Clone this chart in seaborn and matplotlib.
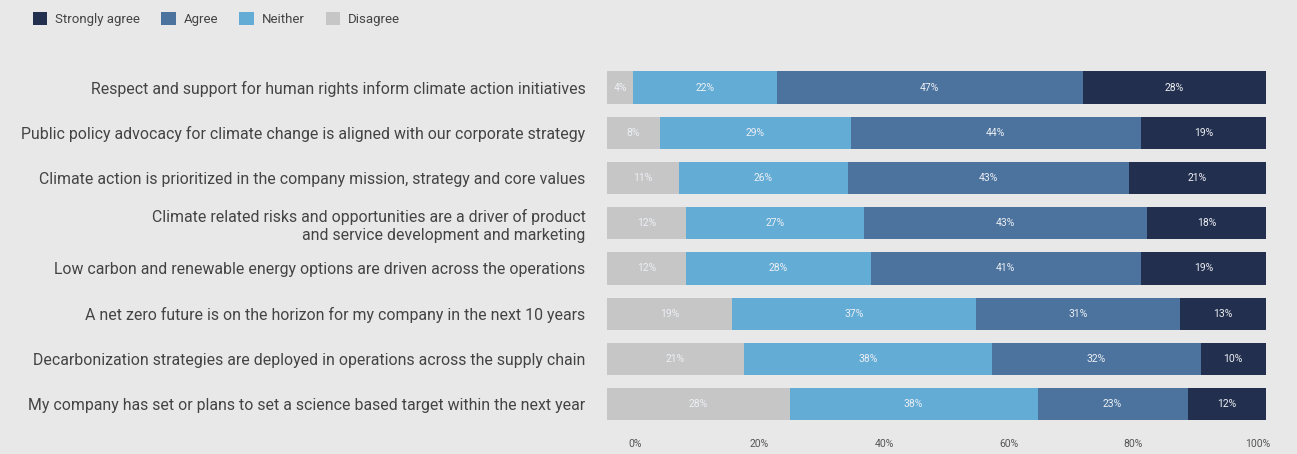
import matplotlib
matplotlib.use("Agg")
import matplotlib.pyplot as plt
import seaborn as sns
import numpy as np
import pandas as pd
from matplotlib.patches import Patch

statements = [
    "Respect and support for human rights inform climate action initiatives",
    "Public policy advocacy for climate change is aligned with our corporate strategy",
    "Climate action is prioritized in the company mission, strategy and core values",
    "Climate related risks and opportunities are a driver of product\nand service development and marketing",
    "Low carbon and renewable energy options are driven across the operations",
    "A net zero future is on the horizon for my company in the next 10 years",
    "Decarbonization strategies are deployed in operations across the supply chain",
    "My company has set or plans to set a science based target within the next year",
]
disagree = [4, 8, 11, 12, 12, 19, 21, 28]
neither = [22, 29, 26, 27, 28, 37, 38, 38]
agree = [47, 44, 43, 43, 41, 31, 32, 23]
strongly = [28, 19, 21, 18, 19, 13, 10, 12]
series_names = ["Disagree", "Neither", "Agree", "Strongly agree"]
tick_labels = ["0%", "20%", "40%", "60%", "80%", "100%"]

colors = {"Strongly agree": "#232f4e", "Agree": "#4b739e",
          "Neither": "#63acd6", "Disagree": "#c6c6c6"}
bg = "#e8e8e8"

sns.set_theme(style="white")
plt.rcParams["font.family"] = ["Roboto", "DejaVu Sans"]

vals = np.array([disagree, neither, agree, strongly], dtype=float)
totals = vals.sum(axis=0)
norm = vals / totals * 100
cum = np.cumsum(norm, axis=0)

fig = plt.figure(figsize=(12.97, 4.54), dpi=100, facecolor=bg)
ax = fig.add_axes([0.468, 0.060, 0.508, 0.797])
ax.set_facecolor(bg)

df = pd.DataFrame({"statement": statements})
for i in range(3, -1, -1):
    df["v"] = cum[i]
    sns.barplot(data=df, x="v", y="statement", color=colors[series_names[i]],
                orient="h", width=0.71, ax=ax, saturation=1, edgecolor="none",
                linewidth=0)

for i in range(4):
    raw = vals[i]
    for r in range(len(statements)):
        left = cum[i][r] - norm[i][r]
        ax.text(left + norm[i][r] / 2, r, f"{int(raw[r])}%", ha="center",
                va="center", fontsize=7.5, color="#eceff4")

ax.set_xlim(0, 100)
ax.set_ylim(7.5, -0.5)
ax.set_xlabel("")
ax.set_ylabel("")
tick_pos = np.linspace(4.25, 98.8, len(tick_labels))
ax.set_xticks(tick_pos)
ax.set_xticklabels(tick_labels, fontsize=7.5, color="#555555")
ax.tick_params(axis="x", length=0, pad=9)
ax.tick_params(axis="y", length=0, pad=15.5, labelsize=11.4, labelcolor="#444444")
for lab in ax.get_yticklabels():
    lab.set_horizontalalignment("right")
    lab.set_multialignment("right")
    lab.set_linespacing(1.2)
for s in ax.spines.values():
    s.set_visible(False)

order = ["Strongly agree", "Agree", "Neither", "Disagree"]
handles = [Patch(facecolor=colors[n], edgecolor="none", label=n) for n in order]
fig.legend(handles=handles, loc="upper left", bbox_to_anchor=(0.016, 1.0),
           ncol=4, frameon=False, fontsize=9.5, handlelength=1.1,
           handleheight=1.1, handletextpad=0.6, columnspacing=1.6,
           labelcolor="#444444")

fig.savefig("out.png", dpi=100, facecolor=bg)
